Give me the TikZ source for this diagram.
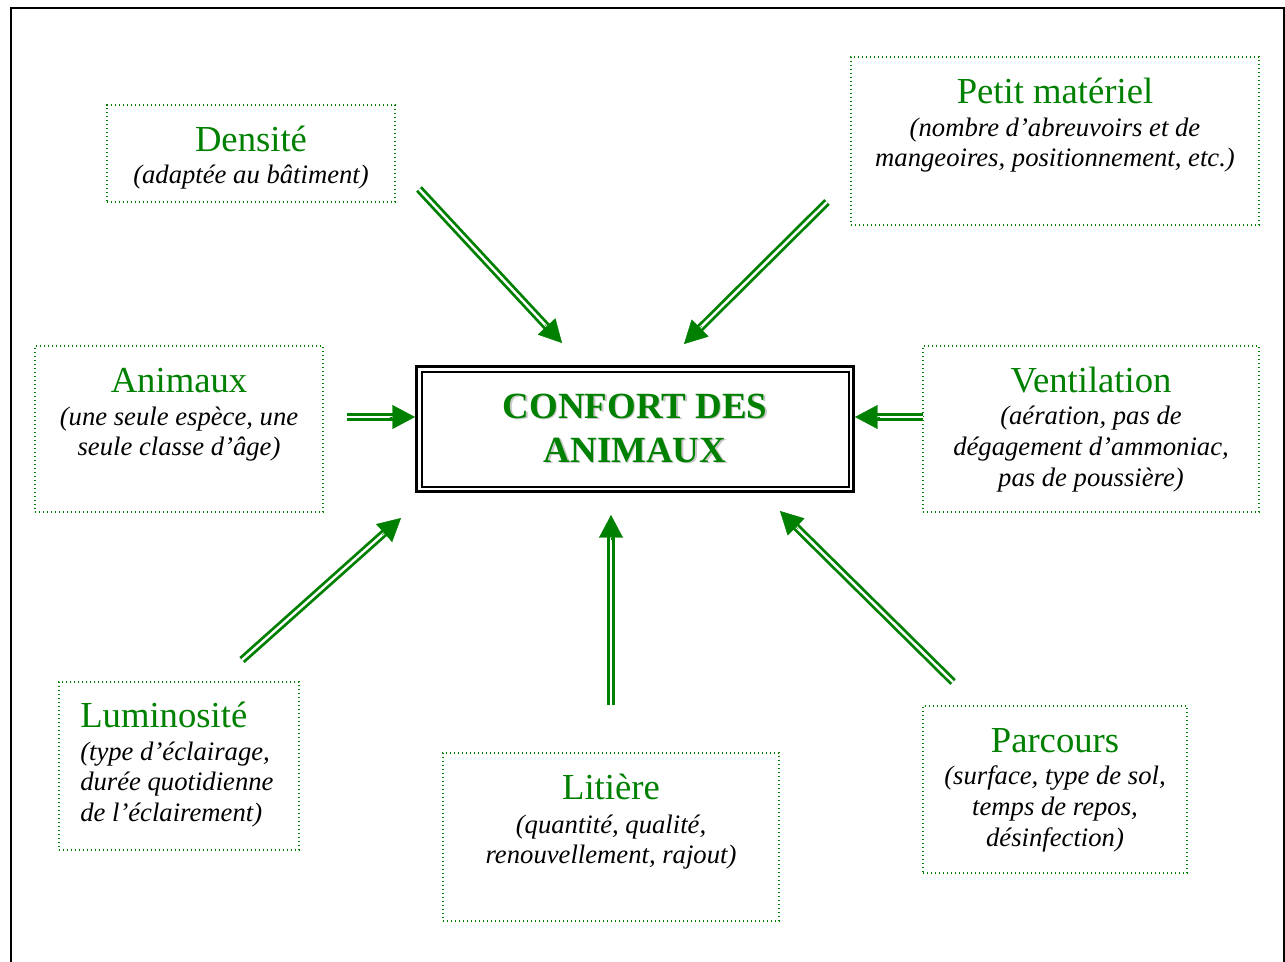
\documentclass[tikz,border=0pt]{standalone}
\usepackage{fontspec}
\setmainfont{Liberation Serif}
\usetikzlibrary{arrows.meta,fit,calc}
\definecolor{dgreen}{RGB}{0,128,0}
\begin{document}
\begin{tikzpicture}[x=0.75pt,y=-0.75pt,
  dotbox/.style={draw=dgreen, line width=1.2pt, dash pattern=on 1.1pt off 1.9pt, inner sep=0pt},
  ttl/.style={text=dgreen, font=\fontsize{27.5}{30}\selectfont, anchor=base, inner sep=0pt},
  sub/.style={text=black, font=\fontsize{20}{23}\selectfont\itshape, anchor=base, inner sep=0pt},
  shaft/.style={draw=dgreen, line width=2.1pt, double=white, double distance=1.8pt, shorten >=14pt},
  head/.style={draw=dgreen, fill=dgreen, line width=0.3pt, -{Triangle[length=17pt,width=18pt]}},
  big/.style={font=\fontsize{27.7}{33}\selectfont\bfseries, anchor=base, inner sep=0pt}
]
\useasboundingbox (0,0) rectangle (1285,961);
\clip (0,0) rectangle (1285,961);
\draw[line width=1.5pt] (11,8) rectangle (1284,1010);

% central box
\node[fit={(416.5,366.5) (853.5,491.5)}, draw, line width=2.2pt, inner sep=0pt] (main) {};
\node[fit={(421.5,371.5) (848.5,486.5)}, draw, line width=1.5pt, inner sep=0pt] (maininner) {};
\node[big, text=black!22] (s1) at (636.5,419.5) {CONFORT DES};
\node[big, text=black!22] (s2) at (636.5,463.5) {ANIMAUX};
\node[big, text=dgreen] (t1) at (635,418) {CONFORT DES};
\node[big, text=dgreen] (t2) at (635,462) {ANIMAUX};

% boxes
\node[dotbox, fit={(107,105) (395,202)}] (dens) {};
\node[ttl] (densT) at (251,151) {Densité};
\node[sub] (densS) at (251,183) {(adaptée au bâtiment)};

\node[dotbox, fit={(851,57) (1259,225)}] (petit) {};
\node[ttl] (petitT) at (1055,103) {Petit matériel};
\node[sub] (petitS1) at (1055,136) {(nombre d’abreuvoirs et de};
\node[sub] (petitS2) at (1055,166) {mangeoires, positionnement, etc.)};

\node[dotbox, fit={(35,346) (323,512)}] (anim) {};
\node[ttl] (animT) at (179,392) {Animaux};
\node[sub] (animS1) at (179,425) {(une seule espèce, une};
\node[sub] (animS2) at (179,455) {seule classe d’âge)};

\node[dotbox, fit={(923,346) (1259,512)}] (vent) {};
\node[ttl] (ventT) at (1091,392) {Ventilation};
\node[sub] (ventS1) at (1091,424) {(aération, pas de};
\node[sub] (ventS2) at (1091,455) {dégagement d’ammoniac,};
\node[sub] (ventS3) at (1091,486) {pas de poussière)};

\node[dotbox, fit={(59,682) (299,850)}] (lum) {};
\node[ttl, anchor=base west] (lumT) at (80,727) {Luminosité};
\node[sub, anchor=base west] (lumS1) at (80,760) {(type d’éclairage,};
\node[sub, anchor=base west] (lumS2) at (80,790) {durée quotidienne};
\node[sub, anchor=base west] (lumS3) at (80,821) {de l’éclairement)};

\node[dotbox, fit={(443,753) (779,921)}] (lit) {};
\node[ttl] (litT) at (611,799) {Litière};
\node[sub] (litS1) at (611,833) {(quantité, qualité,};
\node[sub] (litS2) at (611,863) {renouvellement, rajout)};

\node[dotbox, fit={(923,706) (1187,873)}] (parc) {};
\node[ttl] (parcT) at (1055,752) {Parcours};
\node[sub] (parcS1) at (1055,784) {(surface, type de sol,};
\node[sub] (parcS2) at (1055,815) {temps de repos,};
\node[sub] (parcS3) at (1055,846) {désinfection)};

% arrow ends
\coordinate (a1s) at (419,189); \coordinate (a1e) at (562,343);
\coordinate (a2s) at (827,202); \coordinate (a2e) at (684,344);
\coordinate (a3s) at (347,417); \coordinate (a3e) at (415,417);
\coordinate (a4s) at (923,417); \coordinate (a4e) at (855,417);
\coordinate (a5s) at (242,660); \coordinate (a5e) at (401,518);
\coordinate (a6s) at (611,705); \coordinate (a6e) at (611,515);
\coordinate (a7s) at (953,682); \coordinate (a7e) at (780,511);

\foreach \i in {1,...,7}{
  \draw[shaft] (a\i s) -- (a\i e);
  \draw[head] ($(a\i e)!19pt!(a\i s)$) -- (a\i e);
}
\end{tikzpicture}
\end{document}
